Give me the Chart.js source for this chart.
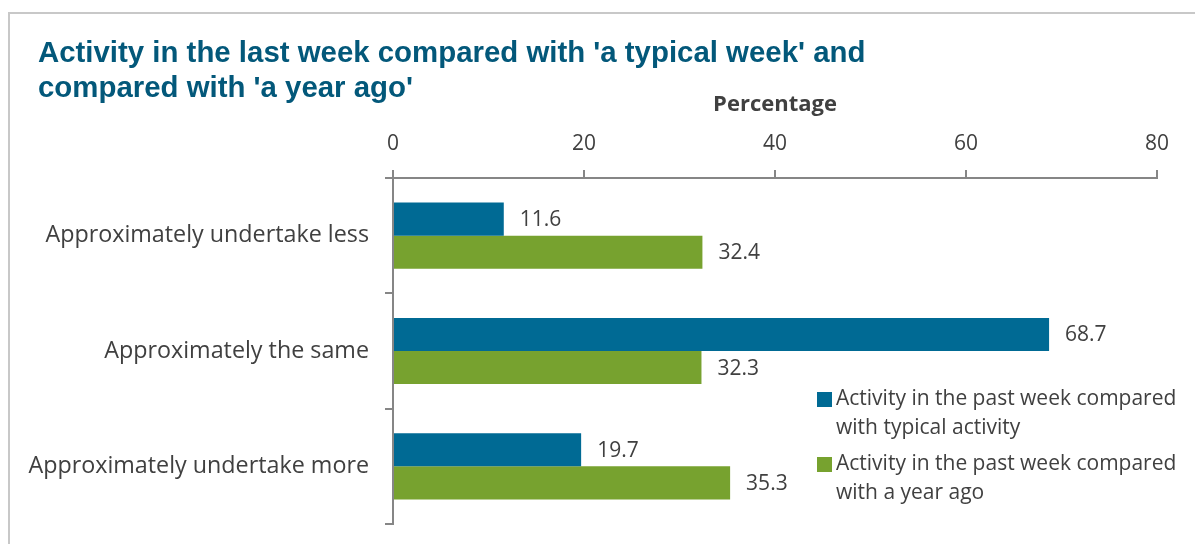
<!DOCTYPE html>
<html>
<head>
<meta charset="utf-8">
<script src="https://cdn.jsdelivr.net/npm/chart.js@4.4.1/dist/chart.umd.min.js"></script>
<style>
  html, body { margin: 0; padding: 0; background: #fff; overflow: hidden; }
  #wrap { position: relative; width: 1195px; height: 544px; }
  #frame { position: absolute; left: 8px; top: 12px; width: 1300px; height: 700px;
           border-top: 2px solid #c8c8c8; border-left: 2px solid #c8c8c8; }
  #title { position: absolute; left: 38px; top: 34px; font: bold 29.4px "Liberation Sans", Arial, sans-serif;
           line-height: 35px; color: #03587a; white-space: nowrap; }
  canvas { position: absolute; left: 0; top: 0; }
</style>
</head>
<body>
<div id="wrap">
  <div id="frame"></div>
  <canvas id="c" width="1195" height="544"></canvas>
  <div id="title">Activity in the last week compared with 'a typical week' and<br>compared with 'a year ago'</div>
</div>
<script>
const categories = ["Approximately undertake less", "Approximately the same", "Approximately undertake more"];
const typicalWeek = [11.6, 68.7, 19.7];
const yearAgo = [32.4, 32.3, 35.3];
const seriesNames = [
  ["Activity in the past week compared", "with typical activity"],
  ["Activity in the past week compared", "with a year ago"]
];
const xTicks = [0, 20, 40, 60, 80];
const axisTitle = "Percentage";

const BLUE = "#006a94", GREEN = "#77a22f", TEXT = "#404040", AXIS = "#868686";
const FONT = '"Open Sans", sans-serif';

const labelPlugin = {
  id: "valueLabels",
  afterDatasetsDraw(chart) {
    const ctx = chart.ctx;
    ctx.save();
    ctx.font = "21px " + FONT;
    ctx.fillStyle = TEXT;
    ctx.textAlign = "left";
    ctx.textBaseline = "middle";
    chart.data.datasets.forEach((ds, di) => {
      const meta = chart.getDatasetMeta(di);
      meta.data.forEach((el, i) => {
        ctx.fillText(ds.data[i].toFixed(1), el.x + 16, el.y + 1);
      });
    });
    ctx.restore();
  }
};

const legendPlugin = {
  id: "customLegend",
  afterDraw(chart) {
    const ctx = chart.ctx;
    const x0 = chart.chartArea.left + 424;
    const y0 = chart.chartArea.top + 221;
    ctx.save();
    ctx.font = "21px " + FONT;
    ctx.fillStyle = TEXT;
    ctx.textAlign = "left";
    ctx.textBaseline = "middle";
    chart.data.datasets.forEach((ds, di) => {
      const y = y0 + di * 65;
      ctx.fillStyle = ds.backgroundColor;
      ctx.fillRect(x0, y - 7, 15, 15);
      ctx.fillStyle = TEXT;
      seriesNames[di].forEach((line, li) => {
        ctx.fillText(line, x0 + 19, y + li * 29);
      });
    });
    ctx.restore();
  }
};

new Chart(document.getElementById("c"), {
  type: "bar",
  data: {
    labels: categories,
    datasets: [
      { label: seriesNames[0].join(" "), data: typicalWeek, backgroundColor: BLUE, barPercentage: 1, categoryPercentage: 0.574 },
      { label: seriesNames[1].join(" "), data: yearAgo, backgroundColor: GREEN, barPercentage: 1, categoryPercentage: 0.574 }
    ]
  },
  options: {
    indexAxis: "y",
    responsive: false,
    animation: false,
    layout: { padding: { top: 0, right: 38, bottom: 20, left: 0 } },
    plugins: { legend: { display: false }, tooltip: { enabled: false }, title: { display: false } },
    scales: {
      x: {
        position: "top",
        min: 0, max: 80,
        afterBuildTicks(scale) { scale.ticks = xTicks.map(v => ({ value: v })); },
        afterFit(scale) { scale.height = 178; },
        ticks: { font: { size: 21, family: FONT }, color: TEXT, padding: 13, maxRotation: 0 },
        grid: { drawOnChartArea: false, tickLength: 8, color: AXIS, lineWidth: 2 },
        border: { color: AXIS, width: 2 },
        title: { display: true, text: axisTitle, color: TEXT, font: { size: 22, weight: "bold", family: FONT }, padding: { top: 92, bottom: 0 } }
      },
      y: {
        afterFit(scale) { scale.width = 393; scale.paddingTop = 0; scale.paddingBottom = 0; },
        ticks: { font: { size: 23.3, family: FONT }, color: TEXT, padding: 16 },
        grid: { drawOnChartArea: false, tickLength: 8, color: AXIS, lineWidth: 2, offset: true },
        border: { color: AXIS, width: 2 }
      }
    }
  },
  plugins: [labelPlugin, legendPlugin]
});
</script>
</body>
</html>
